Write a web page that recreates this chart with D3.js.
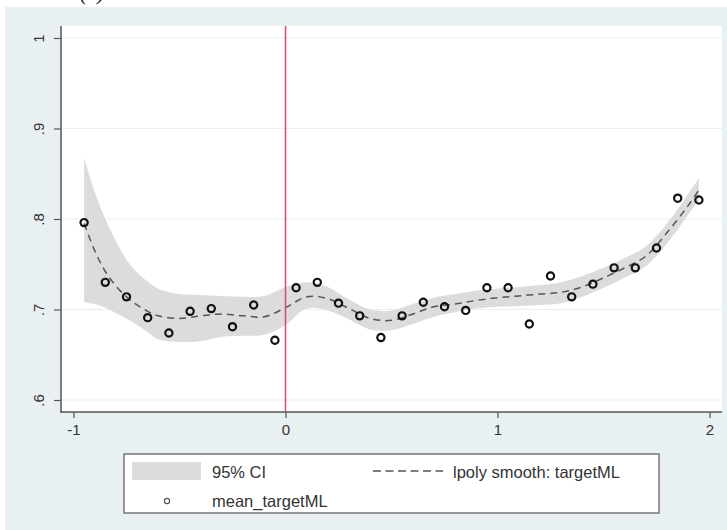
<!DOCTYPE html>
<html>
<head>
<meta charset="utf-8">
<script src="https://cdn.jsdelivr.net/npm/d3@7"></script>
<style>
  html, body { margin: 0; padding: 0; background: #ffffff; }
  svg { display: block; }
  text { font-family: "Liberation Sans", Arial, Helvetica, sans-serif; fill: #333333; }
</style>
</head>
<body>
<svg id="chart" width="727" height="530"></svg>
<script>
// Bin midpoints of the running variable and the mean of targetML in each bin
const binX = [-0.95, -0.85, -0.75, -0.65, -0.55, -0.45, -0.35, -0.25, -0.15, -0.05,
               0.05,  0.15,  0.25,  0.35,  0.45,  0.55,  0.65,  0.75,  0.85,  0.95,
               1.05,  1.15,  1.25,  1.35,  1.45,  1.55,  1.65,  1.75,  1.85,  1.95];
const meanTargetML = [0.796, 0.730, 0.714, 0.691, 0.674, 0.698, 0.701, 0.681, 0.705, 0.666,
                      0.724, 0.730, 0.707, 0.693, 0.669, 0.693, 0.708, 0.703, 0.699, 0.724,
                      0.724, 0.684, 0.737, 0.714, 0.728, 0.746, 0.746, 0.768, 0.823, 0.821];

// Local polynomial smooth evaluated on a grid, with its 95% confidence band
const gridX = [-0.95, -0.9, -0.85, -0.8, -0.75, -0.7, -0.65, -0.6, -0.5, -0.4, -0.3, -0.2, -0.1,
                0.0, 0.1, 0.2, 0.3, 0.4, 0.5, 0.6, 0.7, 0.8, 0.9, 1.0, 1.1, 1.2, 1.3, 1.4,
                1.5, 1.6, 1.7, 1.8, 1.9, 1.95];
const smoothFit = [0.795, 0.765, 0.742, 0.726, 0.714, 0.705, 0.698, 0.693, 0.690, 0.693, 0.695, 0.693, 0.692,
                   0.702, 0.714, 0.712, 0.701, 0.690, 0.688, 0.695, 0.703, 0.706, 0.710, 0.713, 0.715, 0.717,
                   0.719, 0.725, 0.735, 0.746, 0.759, 0.785, 0.815, 0.832];
const ciUpper = [0.868, 0.830, 0.800, 0.776, 0.755, 0.741, 0.731, 0.723, 0.717, 0.716, 0.715, 0.714, 0.715,
                 0.725, 0.730, 0.725, 0.711, 0.700, 0.699, 0.706, 0.713, 0.717, 0.721, 0.723, 0.725, 0.727,
                 0.730, 0.737, 0.746, 0.757, 0.770, 0.795, 0.828, 0.845];
const ciLower = [0.708, 0.706, 0.702, 0.696, 0.690, 0.683, 0.675, 0.667, 0.664, 0.665, 0.670, 0.671, 0.672,
                 0.683, 0.701, 0.699, 0.689, 0.678, 0.677, 0.684, 0.692, 0.697, 0.701, 0.703, 0.704, 0.705,
                 0.707, 0.714, 0.724, 0.735, 0.748, 0.773, 0.805, 0.821];

// Axis ticks and labels
const xTicks = [-1, 0, 1, 2];
const yTicks = [0.6, 0.7, 0.8, 0.9, 1.0];
const yTickLabels = [".6", ".7", ".8", ".9", "1"];
const cutoff = 0;

// Legend entries
const legendLabels = ["95% CI", "lpoly smooth: targetML", "mean_targetML"];

const svg = d3.select("#chart");

// Graph region and plot region (Stata s2color look)
const plot = { left: 61, right: 722, top: 26, bottom: 412 };

// Panel caption, sitting just above the graph region
svg.append("text")
  .attr("x", 80).attr("y", 0)
  .style("font-family", "'Liberation Serif', 'Times New Roman', serif")
  .style("font-style", "italic")
  .style("font-size", "22px")
  .style("fill", "#111")
  .text("(c)");

svg.append("rect")
  .attr("x", 5).attr("y", 7).attr("width", 722).attr("height", 523)
  .attr("fill", "#e9f0f2");

svg.append("rect")
  .attr("x", plot.left).attr("y", plot.top)
  .attr("width", plot.right - plot.left).attr("height", plot.bottom - plot.top)
  .attr("fill", "#ffffff");

const x = d3.scaleLinear().domain([-1, 2]).range([73.5, 709.5]);
const y = d3.scaleLinear().domain([0.6, 1.0]).range([400, 38]);

// Horizontal gridlines
svg.append("g")
  .selectAll("line")
  .data(yTicks)
  .join("line")
  .attr("x1", plot.left + 1).attr("x2", plot.right)
  .attr("y1", d => y(d)).attr("y2", d => y(d))
  .attr("stroke", "#e6eff1").attr("stroke-width", 1.2);

// Confidence band
const band = gridX.map((gx, i) => ({ x: gx, lo: ciLower[i], hi: ciUpper[i] }));
svg.append("path")
  .datum(band)
  .attr("fill", "#dcdcdc")
  .attr("d", d3.area()
    .x(d => x(d.x)).y0(d => y(d.lo)).y1(d => y(d.hi))
    .curve(d3.curveCatmullRom.alpha(0.5)));

// Smooth line
const fit = gridX.map((gx, i) => ({ x: gx, v: smoothFit[i] }));
svg.append("path")
  .datum(fit)
  .attr("fill", "none")
  .attr("stroke", "#555555")
  .attr("stroke-width", 1.5)
  .attr("stroke-dasharray", "7,5")
  .attr("d", d3.line()
    .x(d => x(d.x)).y(d => y(d.v))
    .curve(d3.curveCatmullRom.alpha(0.5)));

// Cutoff line
svg.append("line")
  .attr("x1", x(cutoff)).attr("x2", x(cutoff))
  .attr("y1", plot.top).attr("y2", plot.bottom)
  .attr("stroke", "#d94a6b").attr("stroke-width", 1.5);

// Bin means
svg.append("g")
  .selectAll("circle")
  .data(binX.map((bx, i) => ({ x: bx, v: meanTargetML[i] })))
  .join("circle")
  .attr("cx", d => x(d.x)).attr("cy", d => y(d.v))
  .attr("r", 3.6)
  .attr("fill", "none")
  .attr("stroke", "#111111")
  .attr("stroke-width", 2.2);

// Y axis (Stata-style rotated labels)
const yAxis = d3.axisLeft(y).tickValues(yTicks).tickSize(7)
  .tickFormat((d, i) => yTickLabels[i]);
const gy = svg.append("g").attr("transform", `translate(${plot.left},0)`).call(yAxis);
gy.select(".domain").remove();
gy.selectAll(".tick line").attr("stroke", "#555").attr("stroke-width", 1.2);
gy.selectAll(".tick text")
  .attr("x", null).attr("dy", null)
  .attr("text-anchor", "middle")
  .attr("transform", "translate(-17,0) rotate(-90)")
  .style("font-size", "15px").style("fill", "#333");
svg.append("line")
  .attr("x1", plot.left).attr("x2", plot.left)
  .attr("y1", plot.top).attr("y2", plot.bottom + 0.5)
  .attr("stroke", "#555").attr("stroke-width", 1.5);

// X axis
const xAxis = d3.axisBottom(x).tickValues(xTicks).tickSize(6).tickFormat(d3.format("d"));
const gx = svg.append("g").attr("transform", `translate(0,${plot.bottom})`).call(xAxis);
gx.select(".domain").remove();
gx.selectAll(".tick line").attr("stroke", "#555").attr("stroke-width", 1.2);
gx.selectAll(".tick text")
  .attr("y", 23).attr("dy", null)
  .text(d => d < 0 ? "-" + Math.abs(d) : String(d))
  .style("font-size", "15px").style("fill", "#333");
svg.append("line")
  .attr("x1", plot.left - 0.75).attr("x2", plot.right)
  .attr("y1", plot.bottom).attr("y2", plot.bottom)
  .attr("stroke", "#555").attr("stroke-width", 1.5);

// Legend
const lg = svg.append("g");
lg.append("rect")
  .attr("x", 124).attr("y", 454).attr("width", 535).attr("height", 59)
  .attr("fill", "#ffffff").attr("stroke", "#777").attr("stroke-width", 1.5);
lg.append("rect")
  .attr("x", 132).attr("y", 462).attr("width", 69).attr("height", 18)
  .attr("fill", "#dcdcdc");
lg.append("text").attr("x", 212).attr("y", 477.5)
  .style("font-size", "16.5px").text(legendLabels[0]);
lg.append("line")
  .attr("x1", 373).attr("x2", 443).attr("y1", 471).attr("y2", 471)
  .attr("stroke", "#555").attr("stroke-width", 1.3).attr("stroke-dasharray", "8,4.5");
lg.append("text").attr("x", 453).attr("y", 477.5)
  .style("font-size", "16.5px").text(legendLabels[1]);
lg.append("circle")
  .attr("cx", 167).attr("cy", 501).attr("r", 2.6)
  .attr("fill", "none").attr("stroke", "#555").attr("stroke-width", 1.2);
lg.append("text").attr("x", 212).attr("y", 507)
  .style("font-size", "16.5px").text(legendLabels[2]);
</script>
</body>
</html>
